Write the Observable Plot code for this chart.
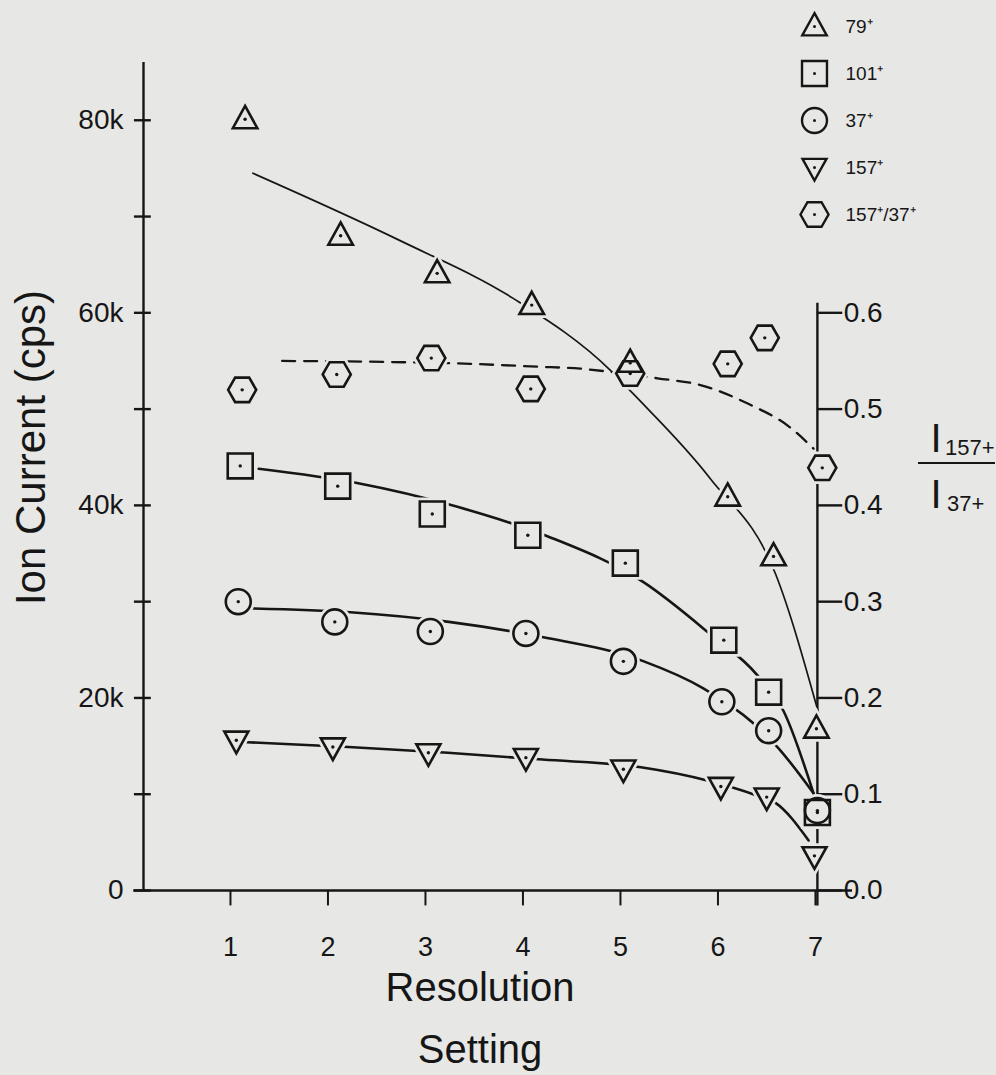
<!DOCTYPE html>
<html>
<head>
<meta charset="utf-8">
<script src="https://cdn.jsdelivr.net/npm/d3@7"></script>
<script src="https://cdn.jsdelivr.net/npm/@observablehq/plot@0.6"></script>
<style>
  html, body { margin: 0; padding: 0; background: #e7e7e5; }
  #wrap { position: relative; width: 996px; height: 1075px; }
  #legend { position: absolute; left: 790px; top: 0px; }
  #overlay { position: absolute; left: 0; top: 0; pointer-events: none; }
</style>
</head>
<body>
<div id="wrap"></div>
<script>
// ---------- data ----------
const seriesNames = ["79⁺", "101⁺", "37⁺", "157⁺", "157⁺/37⁺"];

// measured points: resolution setting, ion current (k cps)
const set79  = [1.15, 2.13, 3.12, 4.09, 5.10, 6.10, 6.57, 7.01];
const ion79  = [80.1, 68.0, 64.1, 60.8, 54.8, 40.9, 34.7, 16.8];
const set101 = [1.10, 2.10, 3.07, 4.05, 5.05, 6.06, 6.52, 7.02];
const ion101 = [44.1, 42.0, 39.1, 36.9, 34.0, 26.0, 20.6, 8.1];
const set37  = [1.08, 2.07, 3.05, 4.03, 5.03, 6.04, 6.52, 7.02];
const ion37  = [30.0, 27.9, 26.9, 26.7, 23.8, 19.6, 16.6, 8.3];
const set157 = [1.06, 2.05, 3.03, 4.03, 5.03, 6.03, 6.50, 6.99];
const ion157 = [15.6, 14.9, 14.3, 13.8, 12.6, 10.8, 9.7, 3.6];
// ratio I157+/I37+ (right axis)
const setRatio = [1.12, 2.09, 3.06, 4.08, 5.10, 6.10, 6.48, 7.07];
const ratio    = [0.520, 0.536, 0.553, 0.521, 0.537, 0.547, 0.574, 0.439];

// hand-drawn fit curves
const fit79Set  = [1.23, 2.74, 3.90, 4.90, 5.13, 5.92, 6.59, 7.03];
const fit79Ion  = [74.5, 67.5, 61.5, 54.0, 51.6, 42.8, 32.9, 18.5];
const fit101Set = [1.29, 2.31, 3.31, 4.25, 5.24, 5.90, 6.41, 6.67, 6.98];
const fit101Ion = [43.8, 42.3, 39.9, 36.8, 32.0, 26.8, 22.3, 18.7, 10.1];
const fit37Set  = [1.21, 2.23, 3.24, 4.21, 5.24, 5.85, 6.36, 6.61, 6.98];
const fit37Ion  = [29.3, 28.9, 27.9, 26.3, 23.8, 21.0, 17.4, 14.9, 10.1];
const fit157Set = [1.17, 2.21, 3.23, 4.20, 5.21, 5.90, 6.39, 6.59, 6.93];
const fit157Ion = [15.4, 14.9, 14.3, 13.6, 12.8, 11.4, 9.9, 9.1, 5.2];
const fitRatioSet = [1.53, 2.59, 3.46, 4.15, 4.59, 4.87, 5.38, 5.82, 6.30, 6.74, 6.98];
const fitRatio    = [0.550, 0.549, 0.547, 0.544, 0.542, 0.539, 0.532, 0.525, 0.506, 0.481, 0.459];

// axes
const xTicks = [1, 2, 3, 4, 5, 6, 7];
const xTickLabels = ["1", "2", "3", "4", "5", "6", "7"];
const leftTicks = [0, 10, 20, 30, 40, 50, 60, 70, 80];          // k cps
const leftLabelVals = [0, 20, 40, 60, 80];
const leftLabels = ["0", "20k", "40k", "60k", "80k"];
const rightTicks = [0.0, 0.1, 0.2, 0.3, 0.4, 0.5, 0.6];
const rightLabels = ["0.0", "0.1", "0.2", "0.3", "0.4", "0.5", "0.6"];

// ---------- styling ----------
const INK = "#161616";
const BG = "#e7e7e5";
const FONT = "'Liberation Sans', Arial, Helvetica, sans-serif";
const K = 1000, R = 100000;            // ratio 0.1 <-> 10k on the shared scale
const X_DOMAIN = [0.108, 7.38];
const Y_TOP = 86000;
const RIGHT_AXIS_AT = 7.02;

// ---------- symbols ----------
const rad = s => Math.sqrt(s / Math.PI);
const triUp = { draw(c, s) { const r = rad(s), a = r * 1.02, h = r * 1.85;
  c.moveTo(0, -0.6 * h); c.lineTo(a, 0.4 * h); c.lineTo(-a, 0.4 * h); c.closePath(); } };
const triDown = { draw(c, s) { const r = rad(s), a = r * 1.0, h = r * 1.8;
  c.moveTo(0, 0.6 * h); c.lineTo(a, -0.4 * h); c.lineTo(-a, -0.4 * h); c.closePath(); } };
const sq = { draw(c, s) { const h = rad(s) * 1.04;
  c.moveTo(-h, -h); c.lineTo(h, -h); c.lineTo(h, h); c.lineTo(-h, h); c.closePath(); } };
const circ = { draw(c, s) { const r = rad(s) * 1.04; c.moveTo(r, 0); c.arc(0, 0, r, 0, 2 * Math.PI); } };
const hex = { draw(c, s) { const r = rad(s), w = r * 1.17, hh = r * 1.02, q = w * 0.5;
  c.moveTo(-w, 0); c.lineTo(-q, -hh); c.lineTo(q, -hh); c.lineTo(w, 0); c.lineTo(q, hh); c.lineTo(-q, hh); c.closePath(); } };
const symbols = [triUp, sq, circ, triDown, hex];

const zip = (xs, ys, f) => xs.map((x, i) => ({ x, y: ys[i] * f }));
const pointSets = [
  zip(set79, ion79, K), zip(set101, ion101, K), zip(set37, ion37, K),
  zip(set157, ion157, K), zip(setRatio, ratio, R)
];
const fits = [zip(fit79Set, fit79Ion, K), zip(fit101Set, fit101Ion, K),
              zip(fit37Set, fit37Ion, K), zip(fit157Set, fit157Ion, K)];
const fitWidths = [1.7, 2.6, 2.6, 2.6];
const ratioFit = zip(fitRatioSet, fitRatio, R);

const marks = [];
// axes lines and ticks
marks.push(Plot.ruleY([0], { x1: X_DOMAIN[0] - 0.1, x2: X_DOMAIN[1], stroke: INK, strokeWidth: 2.6 }));
marks.push(Plot.ruleX([X_DOMAIN[0]], { y1: 0, y2: Y_TOP, stroke: INK, strokeWidth: 2.4 }));
marks.push(Plot.ruleY(leftTicks, { y: d => d * K, x1: X_DOMAIN[0] - 0.093, x2: X_DOMAIN[0] + 0.08, stroke: INK, strokeWidth: 2.4 }));
marks.push(Plot.text(leftLabelVals, { x: X_DOMAIN[0], y: d => d * K, text: (d, i) => leftLabels[i],
  dx: -20, textAnchor: "end", lineAnchor: "middle", fontSize: 28, fill: INK }));
marks.push(Plot.ruleX(xTicks, { x: d => d, y1: 0, y2: -1600, stroke: INK, strokeWidth: 2 }));
marks.push(Plot.text(xTicks, { x: d => d, y: 0, text: (d, i) => xTickLabels[i],
  dy: 65, lineAnchor: "bottom", fontSize: 27, fill: INK }));
// right axis
marks.push(Plot.ruleX([RIGHT_AXIS_AT], { y1: -1600, y2: 61000, stroke: INK, strokeWidth: 2.4 }));
marks.push(Plot.ruleY(rightTicks, { y: d => d * R, x1: RIGHT_AXIS_AT, x2: RIGHT_AXIS_AT + 0.26, stroke: INK, strokeWidth: 2.4 }));
marks.push(Plot.text(rightTicks, { x: RIGHT_AXIS_AT + 0.26, y: d => d * R, text: (d, i) => rightLabels[i],
  dx: 1, textAnchor: "start", lineAnchor: "middle", fontSize: 28, fill: INK }));

// fit curves
fits.forEach((f, i) => marks.push(Plot.line(f, { x: "x", y: "y", curve: "monotone-x",
  stroke: INK, strokeWidth: fitWidths[i], strokeLinecap: "round" })));
marks.push(Plot.line(ratioFit, { x: "x", y: "y", curve: "monotone-x", stroke: INK,
  strokeWidth: 2.3, strokeDasharray: "13,9" }));

// marker halos, then outlines, then centre dots
pointSets.forEach((p, i) => marks.push(Plot.dot(p, { x: "x", y: "y", r: 12, symbol: symbols[i],
  fill: BG, stroke: BG, strokeWidth: 8 })));
pointSets.forEach((p, i) => marks.push(Plot.dot(p, { x: "x", y: "y", r: 12, symbol: symbols[i],
  fill: "none", stroke: INK, strokeWidth: 2.6 })));
pointSets.forEach(p => marks.push(Plot.dot(p, { x: "x", y: "y", r: 1.7, fill: INK, stroke: "none" })));

// axis titles
marks.push(Plot.text(["Ion Current (cps)"], { frameAnchor: "left", rotate: -90, dx: -112, dy: -29,
  textAnchor: "middle", lineAnchor: "middle", fontSize: 42, fill: INK }));
marks.push(Plot.text(["Resolution"], { frameAnchor: "bottom", dx: -18, dy: 110,
  lineAnchor: "bottom", fontSize: 40, fill: INK }));
marks.push(Plot.text(["Setting"], { frameAnchor: "bottom", dx: -18, dy: 172,
  lineAnchor: "bottom", fontSize: 40, fill: INK }));

const chart = Plot.plot({
  width: 996, height: 1075,
  marginLeft: 143, marginRight: 144, marginTop: 62, marginBottom: 185,
  x: { domain: X_DOMAIN, axis: null },
  y: { domain: [0, Y_TOP], axis: null },
  style: { background: "transparent", fontFamily: FONT, color: INK, overflow: "visible" },
  marks
});
const wrap = document.getElementById("wrap");
wrap.appendChild(chart);

// legend (separate small plot, top right)
const legendMarks = [];
seriesNames.forEach((n, i) => {
  legendMarks.push(Plot.dot([n], { x: () => 0, y: d => d, r: 12, symbol: symbols[i], fill: "none", stroke: INK, strokeWidth: 2.4 }));
  legendMarks.push(Plot.dot([n], { x: () => 0, y: d => d, r: 1.5, fill: INK, stroke: "none" }));
});
legendMarks.push(Plot.text(seriesNames, { x: () => 1, y: d => d, textAnchor: "start", lineAnchor: "middle", fontSize: 19, fill: INK }));
const legend = Plot.plot({
  width: 206, height: 240, margin: 0,
  x: { domain: [0, 1], range: [24, 55], axis: null },
  y: { domain: seriesNames, type: "point", padding: 0, range: [25, 214], axis: null },
  style: { background: "transparent", fontFamily: FONT, color: INK, overflow: "visible" },
  marks: legendMarks
});
legend.id = "legend";
wrap.appendChild(legend);

// right-axis title: I157+ / I37+
const ov = d3.select(wrap).append("svg").attr("id", "overlay").attr("width", 996).attr("height", 1075)
  .style("font-family", FONT).style("fill", INK);
ov.append("text").attr("x", 936).attr("y", 452).attr("text-anchor", "middle").attr("font-size", 40).text("I");
ov.append("text").attr("x", 945).attr("y", 455).attr("font-size", 22).text("157+");
ov.append("line").attr("x1", 918).attr("x2", 995).attr("y1", 463).attr("y2", 463).attr("stroke", INK).attr("stroke-width", 2.2);
ov.append("text").attr("x", 936).attr("y", 508).attr("text-anchor", "middle").attr("font-size", 40).text("I");
ov.append("text").attr("x", 947).attr("y", 511).attr("font-size", 22).text("37+");
</script>
</body>
</html>
